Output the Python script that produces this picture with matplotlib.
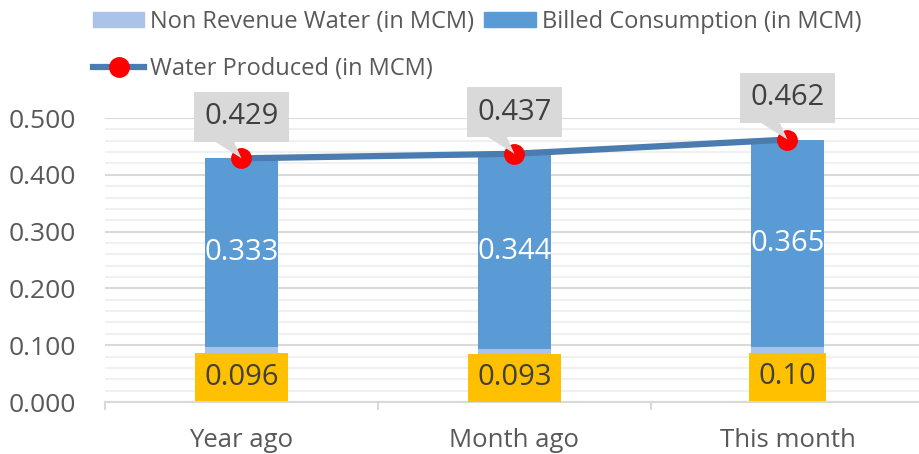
import numpy as np
import matplotlib.pyplot as plt
from matplotlib.lines import Line2D
from matplotlib.patches import Patch, Polygon
from matplotlib.transforms import ScaledTranslation

categories = ['Year ago', 'Month ago', 'This month']
non_revenue = [0.096, 0.093, 0.097]
nrw_labels = ['0.096', '0.093', '0.10']
billed = [0.333, 0.344, 0.365]
produced = [0.429, 0.437, 0.462]

plt.rcParams['font.family'] = ['Open Sans', 'DejaVu Sans']

fig = plt.figure(figsize=(9.2, 4.54), dpi=100)
ax = fig.add_axes([105 / 920, 1 - 402 / 454, 819 / 920, (402 - 118) / 454])

x = np.arange(len(categories))
w = 0.27
ax.bar(x, non_revenue, w, color='#a9c4e8', zorder=2)
ax.bar(x, billed, w, bottom=non_revenue, color='#5b9bd5', zorder=2)
ax.plot(x, produced, color='#4a7cb0', lw=4.5, marker='o', ms=14,
        mfc='red', mec='red', zorder=4)

ax.set_ylim(0, 0.5)
ax.set_xlim(-0.5, 2.5)
ax.set_yticks(np.arange(0, 0.51, 0.1))
ax.set_yticks(np.arange(0, 0.5, 0.02), minor=True)
ax.yaxis.set_major_formatter(plt.FormatStrFormatter('%.3f'))
ax.grid(axis='y', which='major', color='#d9d9d9', lw=1.5, zorder=0)
ax.grid(axis='y', which='minor', color='#f0f0f0', lw=1.5, zorder=0)
ax.set_axisbelow(True)
for s in ['top', 'right', 'left']:
    ax.spines[s].set_visible(False)
ax.spines['bottom'].set_color('#d9d9d9')
ax.spines['bottom'].set_linewidth(1.5)

ax.set_xticks(x)
ax.set_xticklabels(categories)
ax.set_xticks([-0.5, 0.5, 1.5, 2.5], minor=True)
ax.tick_params(axis='x', which='major', length=0, pad=19, labelsize=18.5, labelcolor='#595959')
ax.tick_params(axis='x', which='minor', length=6, color='#d9d9d9', width=1.5)
ax.tick_params(axis='y', which='both', length=0, pad=21, labelsize=19, labelcolor='#595959')

for i in range(len(x)):
    ax.text(x[i], non_revenue[i] / 2 - 0.004, nrw_labels[i], ha='center', va='center',
            fontsize=21, color='#404040', zorder=5,
            bbox=dict(boxstyle='square,pad=0.33', fc='#ffc000', ec='none'))
    ax.text(x[i], non_revenue[i] + billed[i] / 2, f'{billed[i]:.3f}', ha='center',
            va='center', fontsize=21, color='white', zorder=5)
    ax.annotate(f'{produced[i]:.3f}', xy=(x[i], produced[i]), xytext=(0, 30),
                textcoords='offset points', ha='center', va='center',
                fontsize=21, color='#404040', zorder=6,
                bbox=dict(boxstyle='square,pad=0.36', fc='#d9d9d9', ec='none'))
    # callout tail, offsets in inches from the point
    tail = Polygon([(0.0, 0.0), (-0.35, 0.22), (-0.10, 0.22)], closed=True,
                   fc='#d9d9d9', ec='none', zorder=5,
                   transform=fig.dpi_scale_trans + ScaledTranslation(x[i], produced[i], ax.transData))
    ax.add_patch(tail)

handles = [Patch(color='#a9c4e8'),
           Line2D([], [], color='#4a7cb0', lw=4.5, marker='o', ms=14, mfc='red', mec='red'),
           Patch(color='#5b9bd5')]
labels = ['Non Revenue Water (in MCM)', 'Water Produced (in MCM)', 'Billed Consumption (in MCM)']
fig.legend(handles, labels, loc='upper left', bbox_to_anchor=(76 / 920, 1.015), ncol=2,
           frameon=False, fontsize=17, labelcolor='#595959', handlelength=2.2,
           handleheight=0.6, handletextpad=0.25, columnspacing=0.42, labelspacing=1.0,
           borderpad=0.2)

fig.savefig('out.png', dpi=100)
